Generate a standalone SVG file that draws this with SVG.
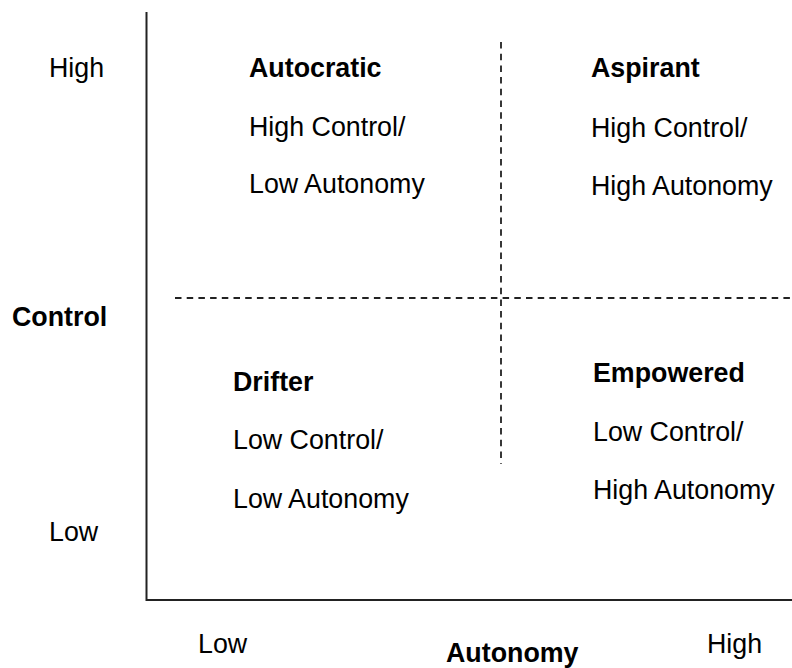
<svg xmlns="http://www.w3.org/2000/svg" width="792" height="668" viewBox="0 0 792 668">
<style>
text{font-family:"Liberation Sans",Arial,sans-serif;font-size:26.8px;fill:#000}
.b{font-weight:bold}
.axis{stroke:#222;stroke-width:2;fill:none}
.dash{stroke:#222;stroke-width:1.8;stroke-dasharray:6.5 5.2;fill:none}
</style>
<rect width="792" height="668" fill="#fff"/>
<g id="connectors">
<path class="axis" d="M146.5 12 V600 H792"/>
<path class="dash" d="M501 42 V464"/>
<path class="dash" d="M175 298 H792"/>
</g>
<g id="axis-labels">
<text x="49" y="77">High</text>
<text x="12" y="326" class="b">Control</text>
<text x="49" y="541">Low</text>
<text x="198" y="653">Low</text>
<text x="446" y="662" class="b">Autonomy</text>
<text x="707" y="653">High</text>
</g>
<g id="autocratic">
<text x="249" y="77" class="b">Autocratic</text>
<text x="249" y="136">High Control/</text>
<text x="249" y="193">Low Autonomy</text>
</g>
<g id="aspirant">
<text x="591" y="77" class="b">Aspirant</text>
<text x="591" y="137">High Control/</text>
<text x="591" y="195">High Autonomy</text>
</g>
<g id="drifter">
<text x="233" y="391" class="b">Drifter</text>
<text x="233" y="449">Low Control/</text>
<text x="233" y="508">Low Autonomy</text>
</g>
<g id="empowered">
<text x="593" y="382" class="b">Empowered</text>
<text x="593" y="441">Low Control/</text>
<text x="593" y="499">High Autonomy</text>
</g>
</svg>
